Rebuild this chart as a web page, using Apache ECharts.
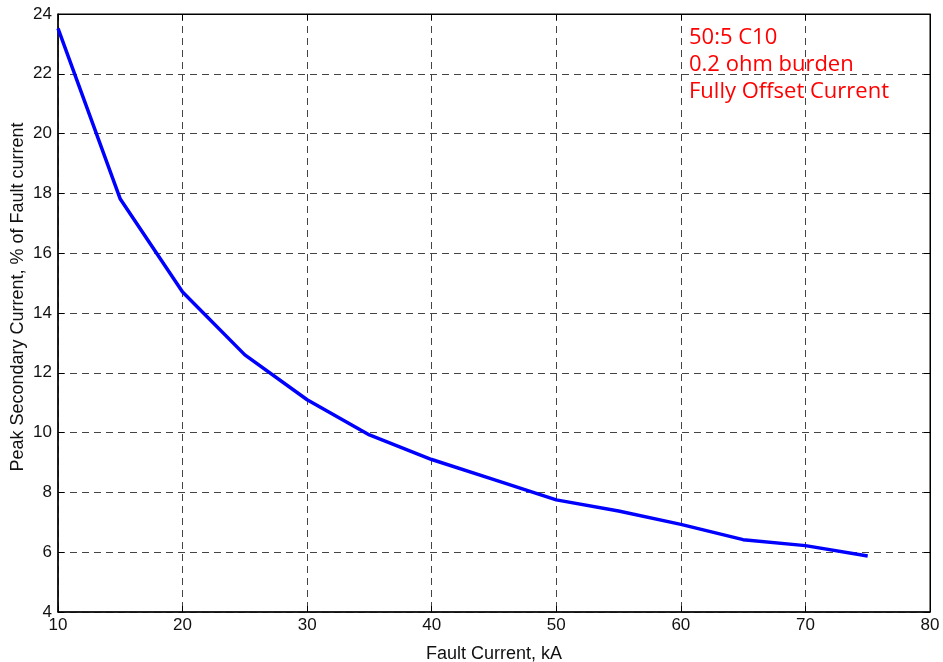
<!DOCTYPE html>
<html>
<head>
<meta charset="utf-8">
<script src="https://cdn.jsdelivr.net/npm/echarts@6/dist/echarts.min.js"></script>
<style>html,body{margin:0;padding:0;background:#fff}#c{width:943px;height:662px}</style>
</head>
<body>
<div id="c"></div>
<script>
const faultCurrent = [10, 15, 20, 25, 30, 35, 40, 45, 50, 55, 60, 65, 70, 75];
const peakSecondary = [23.52, 17.81, 14.7, 12.6, 11.1, 9.92, 9.1, 8.43, 7.75, 7.38, 6.93, 6.42, 6.22, 5.87];
const annotationLines = ['50:5 C10', '0.2 ohm burden', 'Fully Offset Current'];
const xName = 'Fault Current, kA';
const yName = 'Peak Secondary Current, % of Fault current';

const chart = echarts.init(document.getElementById('c'));
const font = 'Liberation Sans, Arial, Helvetica, sans-serif';
const gridLine = {show: true, lineStyle: {color: '#444', type: [7, 5], width: 1}};
chart.setOption({
  animation: false,
  grid: {left: 58, right: 13, top: 14, bottom: 50, show: true, borderColor: '#000', borderWidth: 1,
         containLabel: false, outerBoundsMode: 'none'},
  xAxis: [{
    type: 'value', min: 10, max: 80, interval: 10,
    name: xName, nameLocation: 'middle', nameGap: 33,
    nameTextStyle: {fontFamily: font, fontSize: 18, color: '#111'},
    axisLine: {show: true, lineStyle: {color: '#000', width: 1.5}},
    axisTick: {show: true, inside: true, length: 6, lineStyle: {color: '#000'}},
    axisLabel: {fontFamily: font, fontSize: 17, color: '#111', margin: 5},
    splitLine: gridLine
  }, {
    type: 'value', min: 10, max: 80, interval: 10, position: 'top',
    axisLine: {show: true, lineStyle: {color: '#000'}},
    axisTick: {show: true, inside: true, length: 6, lineStyle: {color: '#000'}},
    axisLabel: {show: false}, splitLine: {show: false}
  }],
  yAxis: [{
    type: 'value', min: 4, max: 24, interval: 2,
    name: yName, nameLocation: 'middle', nameGap: 31, nameRotate: 90, nameMoveOverlap: false,
    nameTextStyle: {fontFamily: font, fontSize: 18, color: '#111', padding: [0, 0, 0, 32]},
    axisLine: {show: true, lineStyle: {color: '#000', width: 1.5}},
    axisTick: {show: true, inside: true, length: 6, lineStyle: {color: '#000'}},
    axisLabel: {fontFamily: font, fontSize: 17, color: '#111', margin: 6},
    splitLine: gridLine
  }, {
    type: 'value', min: 4, max: 24, interval: 2, position: 'right',
    axisLine: {show: true, lineStyle: {color: '#000'}},
    axisTick: {show: true, inside: true, length: 6, lineStyle: {color: '#000'}},
    axisLabel: {show: false}, splitLine: {show: false}
  }],
  series: [{
    type: 'line',
    data: faultCurrent.map((x, i) => [x, peakSecondary[i]]),
    showSymbol: false,
    lineStyle: {color: '#0000ff', width: 3.5},
    itemStyle: {color: '#0000ff'}
  }],
  graphic: annotationLines.map((t, i) => ({
    type: 'text', left: 689, top: 27 + i * 27,
    style: {text: t, fill: '#ff0000', font: '500 22px "Open Sans", "Noto Sans", sans-serif'}
  }))
});
</script>
</body>
</html>
